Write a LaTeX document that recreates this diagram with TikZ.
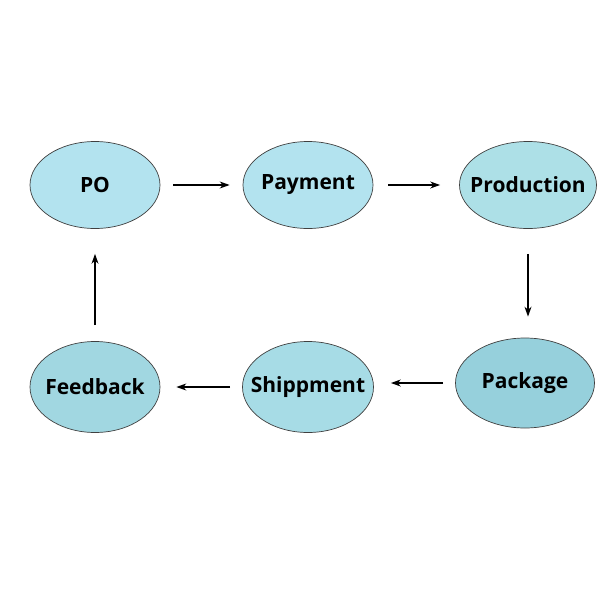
\documentclass[tikz,border=0pt]{standalone}
\usepackage{fontspec}
\setmainfont{Open Sans}
\usetikzlibrary{shapes.geometric,arrows.meta}

\definecolor{poblue}{HTML}{B3E3EF}
\definecolor{prodblue}{HTML}{ADE0E7}
\definecolor{packblue}{HTML}{96D0DC}
\definecolor{shipblue}{HTML}{A7DCE6}
\definecolor{feedblue}{HTML}{A1D7E1}

\tikzset{
    stage/.style={ellipse, draw=black!75, line width=0.7pt, minimum width=130pt,
        minimum height=87pt, inner xsep=-14pt, inner ysep=0pt,
        font=\fontsize{21}{24}\selectfont\bfseries},
    flow/.style={-{Stealth[length=10pt,width=7pt]}, line width=1.4pt}
}

\begin{document}
\begin{tikzpicture}[x=1pt,y=-1pt]

    % Fix the page size
    \useasboundingbox (0,0) rectangle (600,600);

    % Place the stages
    \node[stage, fill=poblue] (po) at (95,185) {PO};
    \node[stage, fill=poblue] (payment) at (308,185) {Payment};
    \node[stage, fill=prodblue, minimum width=137pt] (production) at (528,185) {Production};
    \node[stage, fill=packblue, minimum width=139pt, minimum height=90pt] (package) at (525,383) {Package};
    \node[stage, fill=shipblue, minimum width=131pt, minimum height=91pt] (shippment) at (308,387) {Shippment};
    \node[stage, fill=feedblue, minimum height=91pt] (feedback) at (95,387) {Feedback};

    % Draw the arrows between stages
    \draw[flow, shorten <=13pt, shorten >=13pt] (po) -- (payment);
    \draw[flow, shorten <=15pt, shorten >=19pt] (payment) -- (production);
    \draw[flow, shorten <=25pt, shorten >=21pt] (production.south) -- (production.south |- package.north);
    \draw[flow, shorten <=12pt, shorten >=17pt] (package.west) -- (package.west -| shippment.east);
    \draw[flow, shorten <=12pt, shorten >=16pt] (shippment) -- (feedback);
    \draw[flow, shorten <=16pt, shorten >=25pt] (feedback) -- (po);

\end{tikzpicture}
\end{document}
